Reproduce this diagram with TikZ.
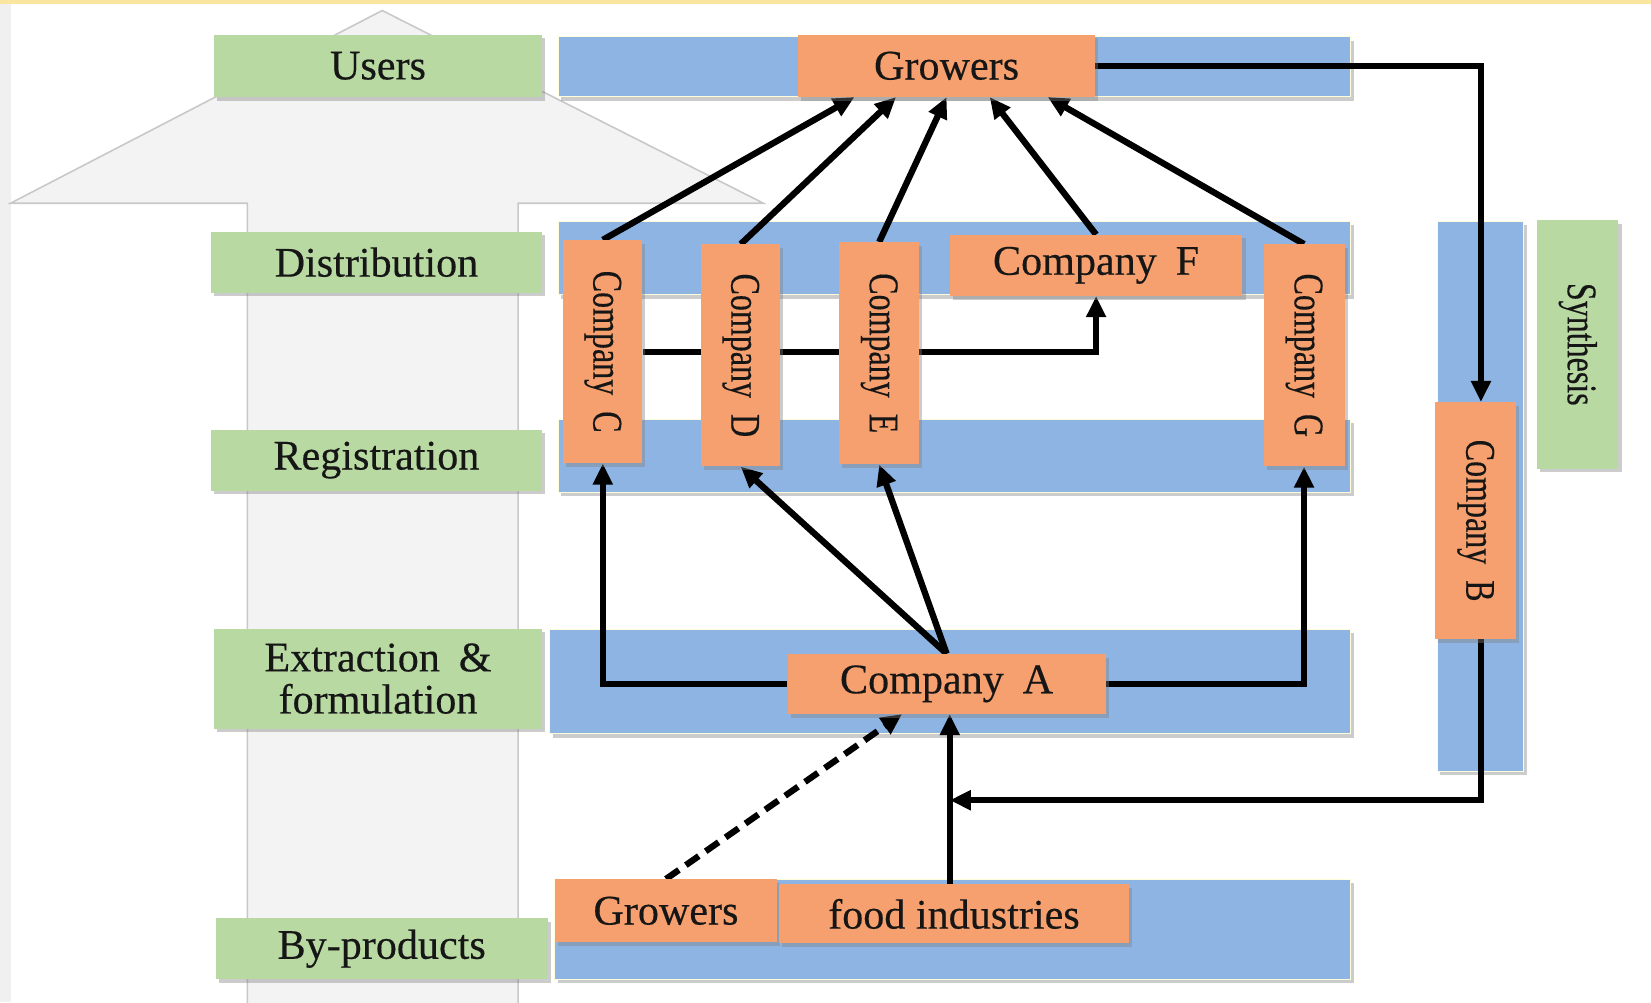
\documentclass[tikz,border=0pt]{standalone}
\usepackage{fontspec}
\setmainfont{Liberation Serif}
\newfontfamily\labelfont[FakeBold=0.35]{Liberation Serif}
\usetikzlibrary{arrows.meta,shadows,calc}
\definecolor{grn}{RGB}{184,217,162}
\definecolor{blu}{RGB}{141,180,226}
\definecolor{org}{RGB}{245,160,110}
\definecolor{arrfill}{RGB}{243,243,244}
\definecolor{arrline}{RGB}{200,200,200}
\definecolor{ink}{RGB}{22,22,22}
\definecolor{topband}{RGB}{251,230,160}
\definecolor{sideband}{RGB}{240,240,241}
\pgfdeclarelayer{bg}
\pgfdeclarelayer{lines}
\pgfsetlayers{bg,lines,main}
\tikzset{
  shade box/.style={drop shadow={shadow xshift=3pt,shadow yshift=-3.5pt,opacity=0.4}},
  box/.style={rectangle, inner sep=0pt, text=ink, align=center,
    font=\labelfont\fontsize{40}{43}\selectfont, shade box},
  gbox/.style={box, fill=grn},
  obox/.style={box, fill=org},
  band/.style={fill=blu, draw=white!85!yellow, line width=1pt, shade box},
  link/.style={line width=6pt, -{Triangle[length=20pt,width=18pt]}},
  dlink/.style={link, dash pattern=on 15pt off 8pt},
}
% text running top to bottom, narrowed along its reading direction
\newcommand{\vtext}[1]{\rotatebox{-90}{\scalebox{0.76}[1]{#1}}}
\begin{document}
\begin{tikzpicture}[x=1pt,y=-1pt]
\useasboundingbox (0,0) rectangle (1568,952);

\begin{pgfonlayer}{bg}
  % page ground and edge strips
  \fill[white] (0,0) rectangle (1568,952);
  \fill[sideband] (0,0) rectangle (10,952);
  \fill[topband] (0,0) rectangle (1568,4);
  % large upward arrow behind the stage labels
  \draw[fill=arrfill, draw=arrline, line width=1.5pt]
    (363,10) -- (725,193) -- (492,193) -- (492,960) -- (235,960)
    -- (235,193) -- (10,193) -- cycle;
  % stage bands
  \path[band] (530,35)  rectangle (1283,92);
  \path[band] (530,210) rectangle (1283,280);
  \path[band] (530,398) rectangle (1283,468);
  \path[band] (522,598) rectangle (1283,697);
  \path[band] (527,835) rectangle (1283,930);
  \path[band] (1365,210) rectangle (1447,733);
\end{pgfonlayer}

% stage labels
\node[gbox, minimum width=312, minimum height=59] (users) at (359,62.5) {Users};
\node[gbox, minimum width=315, minimum height=58] (dist) at (357.5,249) {Distribution};
\node[gbox, minimum width=315, minimum height=58] (reg) at (357.5,437) {Registration};
\node[gbox, minimum width=312, minimum height=95] (extr) at (359,644.5)
  {Extraction\hspace{0.45em}\&\\[-3pt]formulation};
\node[gbox, minimum width=315, minimum height=58] (byp) at (362.5,901) {By-products};
\node[gbox, minimum width=77, minimum height=236] (syn) at (1498.5,327) {\vtext{Synthesis}};

% actors
\node[obox, minimum width=282, minimum height=59] (Gt) at (899,62.5) {Growers};
\node[obox, minimum width=75, minimum height=212] (C) at (572.5,334) {\vtext{Company\hspace{0.5em}C}};
\node[obox, minimum width=75, minimum height=211] (D) at (703.5,337.5) {\vtext{Company\hspace{0.5em}D}};
\node[obox, minimum width=76, minimum height=211] (E) at (835,335.5) {\vtext{Company\hspace{0.5em}E}};
\node[obox, minimum width=278, minimum height=58] (F) at (1041,252) {Company\hspace{0.45em}F};
\node[obox, minimum width=77, minimum height=211] (G) at (1238.5,337.5) {\vtext{Company\hspace{0.5em}G}};
\node[obox, minimum width=77, minimum height=225] (B) at (1401.5,494.5) {\vtext{Company\hspace{0.5em}B}};
\node[obox, minimum width=302, minimum height=57] (A) at (899,649.5) {Company\hspace{0.45em}A};
\node[obox, minimum width=211, minimum height=60] (Gb) at (632.5,865) {Growers};
\node[obox, minimum width=332, minimum height=56] (food) at (906,868) {food industries};

\coordinate (J) at (902,760);
\coordinate (Btop) at ($(B.north)+(5,0)$);
\coordinate (Bbot) at ($(B.south)+(5,0)$);

\begin{pgfonlayer}{lines}
  % distributors supply the growers
  \draw[link] (C.north) -- ($(Gt.south west)!0.19!(Gt.south east)$);
  \draw[link] (D.north) -- ($(Gt.south west)!0.33!(Gt.south east)$);
  \draw[link] (E.north) -- ($(Gt.south west)!0.50!(Gt.south east)$);
  \draw[link] (F.north) -- ($(Gt.south west)!0.645!(Gt.south east)$);
  \draw[link] (G.north) -- ($(Gt.south west)!0.84!(Gt.south east)$);
  % C to F, passing behind D and E
  \draw[link] (C.east) -| (F.south);
  % growers feed back to company B
  \draw[link] (Gt.east) -| (Btop);
  % company A supplies the distributors
  \draw[link] (A.west) -| (C.south);
  \draw[link] (A.east) -| (G.south);
  \draw[link] (A.north) -- (D.south);
  \draw[link] (A.north) -- (E.south);
  % company B joins the supply line into A
  \draw[link] (Bbot) |- (J);
  % by-products into company A
  \draw[link] (J |- food.north) -- (J |- A.south);
  \draw[dlink] (Gb.north) -- ($(A.south west)!0.36!(A.south east)$);
\end{pgfonlayer}
\end{tikzpicture}
\end{document}
